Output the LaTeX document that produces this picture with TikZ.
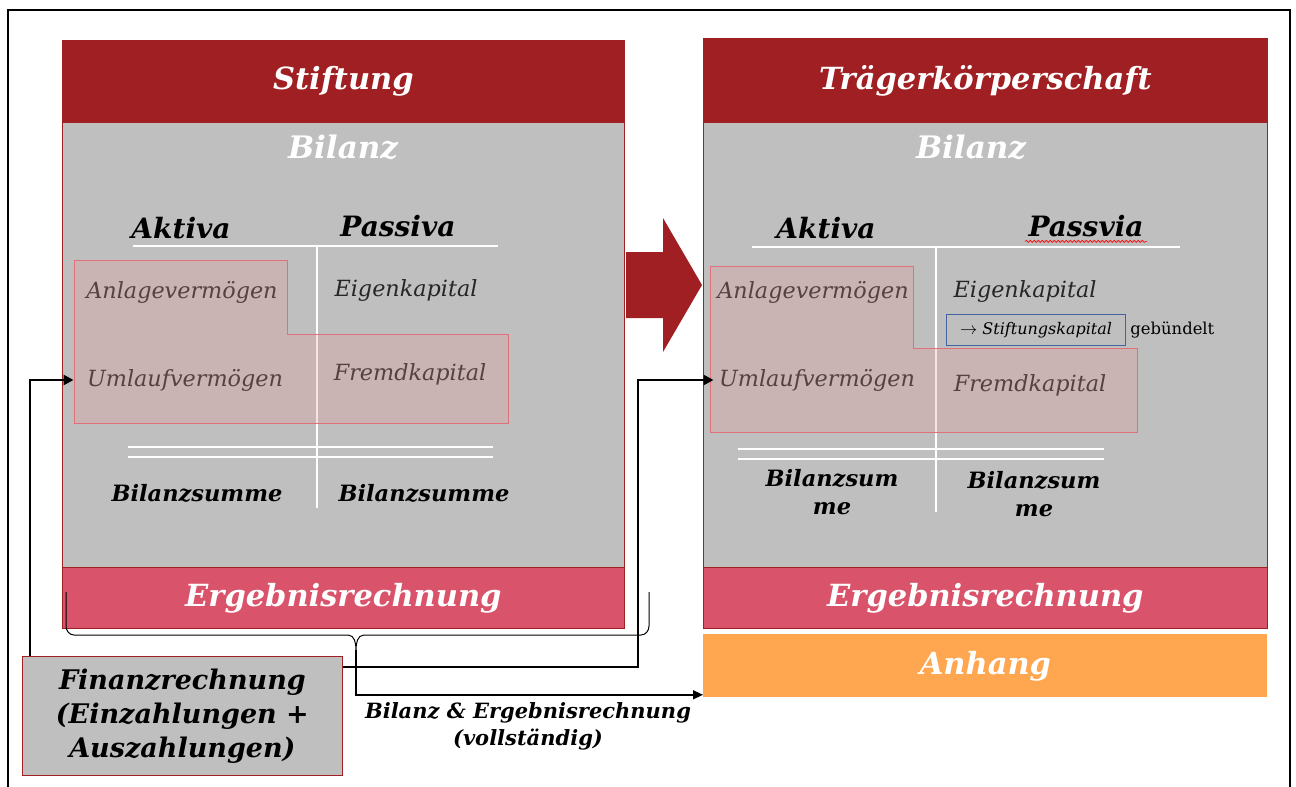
\documentclass[tikz,border=0pt]{standalone}
\usepackage{fontspec}
\setmainfont{DejaVu Serif}
\usetikzlibrary{arrows.meta,positioning,decorations.pathmorphing}

\definecolor{head red}{RGB}{160,31,34}
\definecolor{body gray}{RGB}{191,191,191}
\definecolor{result pink}{RGB}{217,83,107}
\definecolor{note orange}{RGB}{255,166,80}
\definecolor{mark edge}{RGB}{224,112,122}
\definecolor{mark area}{RGB}{231,147,147}
\definecolor{box blue}{RGB}{68,100,160}

\def\markLeft{(74,260) -- (287,260) -- (287,334) -- (508,334) -- (508,423) -- (74,423) -- cycle}
\def\markRight{(710,266) -- (913,266) -- (913,348) -- (1137,348) -- (1137,432) -- (710,432) -- cycle}

\tikzset{
  bar/.style={anchor=north west, inner sep=0pt, draw=head red, line width=0.8pt,
    text=white, font=\fontsize{30.5}{34}\selectfont\bfseries\itshape},
  headbar/.style={bar, fill=head red, minimum height=82},
  bodybox/.style={bar, fill=body gray, minimum height=445},
  resultbar/.style={bar, fill=result pink, minimum height=61},
  notebar/.style={bar, fill=note orange, draw=none, minimum height=63},
  title/.style={text=white, font=\fontsize{31}{34}\selectfont\bfseries\itshape},
  colhead/.style={font=\fontsize{28}{32}\selectfont\bfseries\itshape},
  entry/.style={text=black!85, font=\fontsize{22.3}{26}\selectfont\itshape},
  total/.style={align=center, font=\fontsize{22.5}{28}\selectfont\bfseries\itshape},
  rule/.style={draw=white, line width=1.2pt},
  markarea/.style={fill=mark area, fill opacity=0.25, draw=mark edge, line width=1pt},
  conn/.style={draw, line width=2.6pt, -{Triangle[length=10pt,width=10pt]}},
  thinconn/.style={draw, line width=1.4pt, -{Triangle[length=10pt,width=9pt]}}
  }

\begin{document}
\begin{tikzpicture}[x=1pt,y=-1pt]
  \useasboundingbox (0,0) rectangle (1296,787);
  \draw[line width=1.5pt] (8,790) -- (8,10) -- (1290,10) -- (1290,790);

  % Stiftung
  \node[bodybox, minimum width=562] (bodyL) at (62,122) {};
  \node[headbar, minimum width=562] (headL) at (62,40) {Stiftung};
  \node[resultbar, minimum width=562] (resL) at (62,567) {Ergebnisrechnung};
  \node[title] (bilL) at (343,147) {Bilanz};

  % Traegerkoerperschaft
  \node[bodybox, minimum width=564] (bodyR) at (703,122) {};
  \node[headbar, minimum width=564, minimum height=84] (headR) at (703,38) {Trägerkörperschaft};
  \node[resultbar, minimum width=564] (resR) at (703,567) {Ergebnisrechnung};
  \node[notebar, minimum width=564] (anh) at (703,634) {Anhang};
  \node[title] (bilR) at (971,147) {Bilanz};

  \fill[head red] (626,252) -- (663,252) -- (663,218) -- (702,285) -- (663,352)
    -- (663,318) -- (626,318) -- cycle;

  % Bilanz tables
  \draw[rule] (133,246) -- (498,246) (317,246) -- (317,508)
    (128,447) -- (493,447) (128,457) -- (493,457);
  \draw[rule] (752,247) -- (1180,247) (936,247) -- (936,512)
    (738,449) -- (1104,449) (738,459) -- (1104,459);

  \foreach \pos/\name/\txt in {{(181,228)/aktL/Aktiva}, {(398,226)/pasL/Passiva},
                               {(826,228)/aktR/Aktiva}, {(1086,226)/pasR/Passvia}} {
    \node[colhead] (\name) at \pos {\txt};
  }
  \draw[red, line width=0.6pt, decorate, decoration={snake, amplitude=1pt, segment length=4pt}]
    ([yshift=-1pt]pasR.south west) -- ([yshift=-1pt]pasR.south east);

  \foreach \pos/\name/\txt in {{(182,292)/anlL/Anlagevermögen}, {(406,291)/eigL/Eigenkapital},
                               {(185,380)/umlL/Umlaufvermögen}, {(410,374)/fremL/Fremdkapital},
                               {(813,292)/anlR/Anlagevermögen}, {(1025,292)/eigR/Eigenkapital},
                               {(817,380)/umlR/Umlaufvermögen}, {(1030,385)/fremR/Fremdkapital}} {
    \node[entry] (\name) at \pos {\txt};
  }

  \node[total] (sumLa) at (197,493) {Bilanzsumme};
  \node[total] (sumLp) at (424,493) {Bilanzsumme};
  \node[total] (sumRa) at (832,492) {Bilanzsum\\me};
  \node[total] (sumRp) at (1034,494) {Bilanzsum\\me};

  \node[draw=box blue, line width=0.8pt, minimum width=179, minimum height=31, inner sep=2pt,
    font=\fontsize{16}{18}\selectfont\itshape] (cap) at (1036,330) {$\rightarrow$ Stiftungskapital};
  \node[right=1pt of cap, font=\fontsize{16.4}{18}\selectfont] (gebu) {gebündelt};

  \draw[markarea] \markLeft;
  \draw[markarea] \markRight;

  % Finanzrechnung and links
  \node[anchor=north west, fill=body gray, draw=head red, line width=0.8pt,
    minimum width=320, minimum height=119, align=center,
    font=\fontsize{27}{34}\selectfont\bfseries\itshape] (fin) at (22,656)
    {Finanzrechnung\\(Einzahlungen +\\Auszahlungen)};

  \draw[line width=1pt] (66,592) -- (66,626) to[out=-90,in=180] (74,635) -- (348,635)
    to[out=0,in=90] (356,650) to[out=90,in=180] (364,635) -- (641,635)
    to[out=0,in=-90] (649,626) -- (649,592);
  \coordinate (braceTip) at (356,650);

  \draw[conn] ([xshift=8pt]fin.north west) |- ([xshift=-10pt]umlL.west);
  \draw[conn] ([yshift=-11pt]fin.north east) -| ([xshift=13pt]umlR.west -| bodyL.east)
    -- ([xshift=-2pt]umlR.west);
  \draw[thinconn] (braceTip) |- ([yshift=3pt]anh.south west);

  \node[align=center, font=\fontsize{21}{27}\selectfont\bfseries\itshape] (lbl) at (528,726)
    {Bilanz \& Ergebnisrechnung\\(vollständig)};
\end{tikzpicture}
\end{document}
